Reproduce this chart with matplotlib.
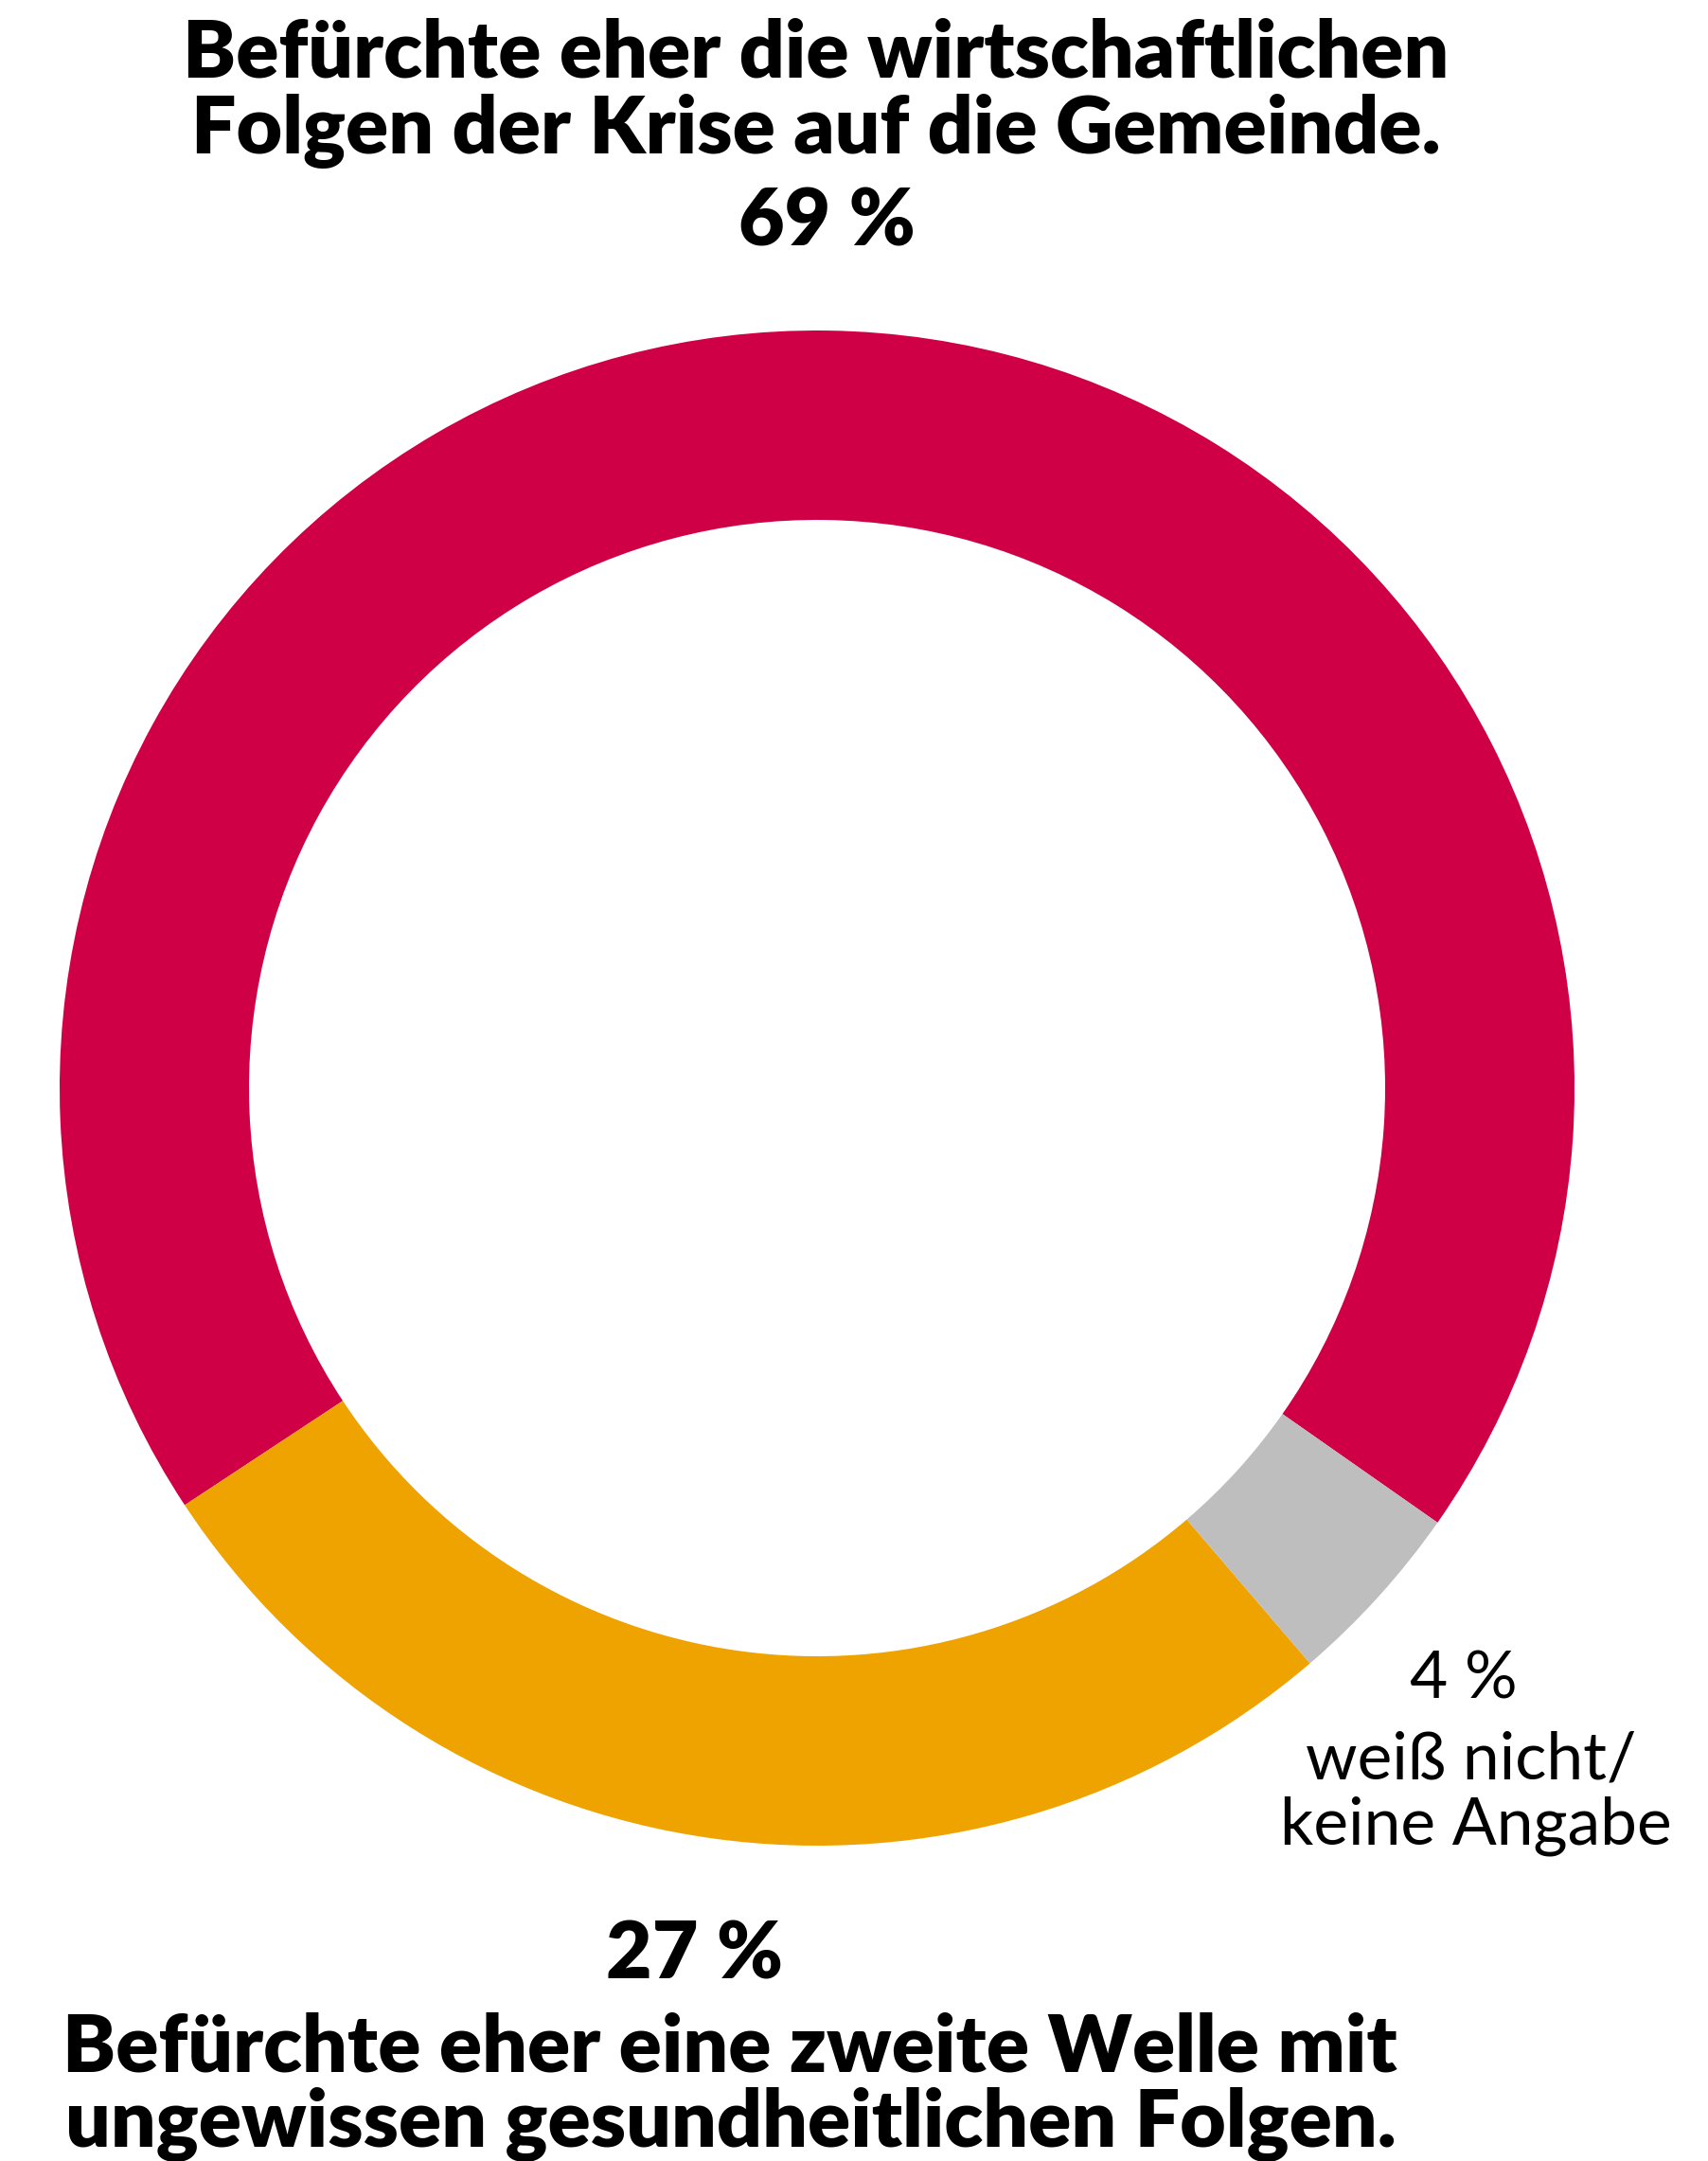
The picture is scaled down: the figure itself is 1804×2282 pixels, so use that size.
import numpy as np
import matplotlib
matplotlib.use("Agg")
from matplotlib import pyplot as plt

# data
labels = ["Befürchte eher die wirtschaftlichen Folgen", "Befürchte eher eine zweite Welle", "weiß nicht/keine Angabe"]
shares = [69, 27, 4]
colors = ["#D00046", "#EFA300", "#BEBEBE"]

W, H = 1804, 2282
fig = plt.figure(figsize=(W / 100, H / 100), dpi=100)
ax = fig.add_axes([0, 0, 1, 1])

cx, cy, r = 863, H - 1149, 800
# red slice roughly centred on the top
ax.pie(shares, colors=colors, startangle=-35, counterclock=True,
       center=(cx, cy), radius=r, frame=True,
       wedgeprops=dict(width=200, linewidth=0))
ax.set_xlim(0, W)
ax.set_ylim(0, H)
ax.set_aspect("equal")
ax.axis("off")

bold = dict(family="Lato", weight="heavy", color="black", ha="center", va="baseline")
reg = dict(family="Lato", color="black", ha="center", va="baseline")

def put(x, y, s, size, style):
    ax.text(x, H - y, s, fontsize=size, **style)

put(862, 81, "Befürchte eher die wirtschaftlichen", 60.5, bold)
put(862, 162, "Folgen der Krise auf die Gemeinde.", 60.5, bold)
put(873, 259, f"{shares[0]} %", 60.5, bold)

put(734, 2090, f"{shares[1]} %", 60.5, bold)
put(771, 2187, "Befürchte eher eine zweite Welle mit", 60.5, bold)
put(772, 2267, "ungewissen gesundheitlichen Folgen.", 60.5, bold)

put(1546, 1794, f"{shares[2]} %", 50, reg)
put(1554, 1878, "weiß nicht/", 50, reg)
put(1559, 1947, "keine Angabe", 50, reg)

fig.savefig("out.png", dpi=100, facecolor="white")
